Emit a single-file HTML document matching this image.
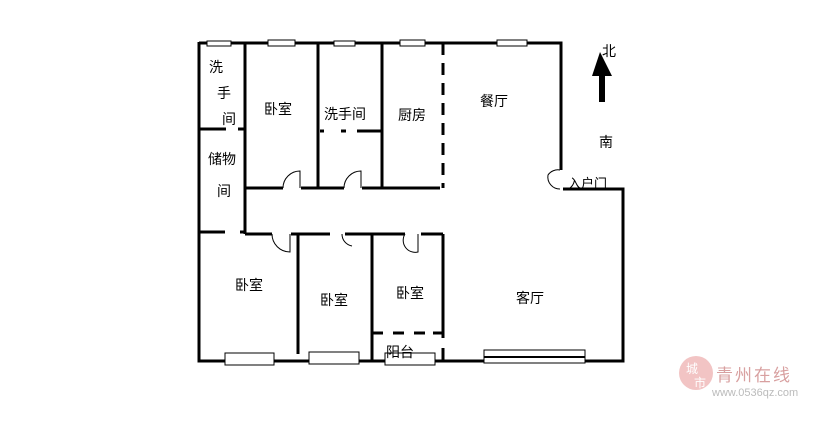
<!DOCTYPE html>
<html><head><meta charset="utf-8"><style>
body{margin:0;background:#fff;width:814px;height:419px;overflow:hidden}
svg text{font-family:"Liberation Sans","Noto Sans CJK SC",sans-serif;font-size:14px;fill:#000}
</style></head><body>
<svg width="814" height="419" viewBox="0 0 814 419">
<g stroke="#000" stroke-width="3" fill="none">
<path d="M199 42V361H623V189H563M199 43H561V170"/>
<path d="M245 43V234M318 43V188M382 43V188"/>
<path d="M443 43V188" stroke-dasharray="12,8"/>
<path d="M245 188H283M301 188H344M362 188H440"/>
<path d="M199 129H226M238 129H245"/>
<path d="M199 232H225M240 232H245"/>
<path d="M320 131H324M341 131H346M357 131H382" />
<path d="M245 234H272M291 234H330M345 234H405M421 234H443"/>
<path d="M298 234V354M372 234V360M443 234V338M443 348V360"/>
<path d="M372 333H383M393 333H404M414 333H425M433 333H443"/>
</g>
<g stroke="#000" stroke-width="1" fill="none">
<path d="M283 188A17 17 0 0 1 300 171V188"/>
<path d="M344 188A17 17 0 0 1 361 171V188"/>
<path d="M272 234A18 18 0 0 0 290 252V234"/>
<path d="M342 234A12 12 0 0 0 352 246"/>
<path d="M405 234A12 12 0 0 0 418 252V234"/>
<path d="M560 170A12 12 0 0 0 548 175 12 12 0 0 0 560 189"/>
</g>
<g fill="#fff" stroke="#000" stroke-width="1">
<rect x="207" y="41" width="24" height="5"/><rect x="268" y="40" width="27" height="6"/>
<rect x="334" y="41" width="21" height="5"/><rect x="400" y="40" width="25" height="6"/>
<rect x="497" y="40" width="30" height="6"/>
<rect x="225" y="353" width="49" height="12"/><rect x="309" y="352" width="50" height="12"/>
<rect x="385" y="353" width="50" height="12"/><rect x="484" y="350" width="101" height="13"/>
</g>
<path d="M484 357H585" stroke="#000" stroke-width="2"/>
<path d="M600 52L592 76H599V102H605V76H612Z" fill="#000"/>
<text x="602" y="56">北</text><text x="599" y="147">南</text>
<text x="568" y="188" style="font-size:13px">入户门</text>
<text x="209" y="72">洗</text><text x="217" y="98">手</text><text x="222" y="124">间</text>
<text x="208" y="164">储物</text><text x="217" y="196">间</text>
<text x="264" y="114">卧室</text><text x="324" y="119">洗手间</text><text x="398" y="120">厨房</text>
<text x="480" y="106">餐厅</text>
<text x="235" y="290">卧室</text><text x="320" y="305">卧室</text><text x="396" y="298">卧室</text>
<text x="516" y="303">客厅</text><text x="386" y="357">阳台</text>
<circle cx="696" cy="373" r="17" fill="#f2c4c4"/>
<text x="686" y="373" style="font-size:12px;fill:#fff">城</text><text x="694" y="387" style="font-size:12px;fill:#fff">市</text>
<text x="716" y="381" style="font-size:17px;fill:#d8a0a0;letter-spacing:2px">青州在线</text>
<text x="712" y="396" style="font-size:11px;fill:#bbb">www.0536qz.com</text>
</svg>
</body></html>
